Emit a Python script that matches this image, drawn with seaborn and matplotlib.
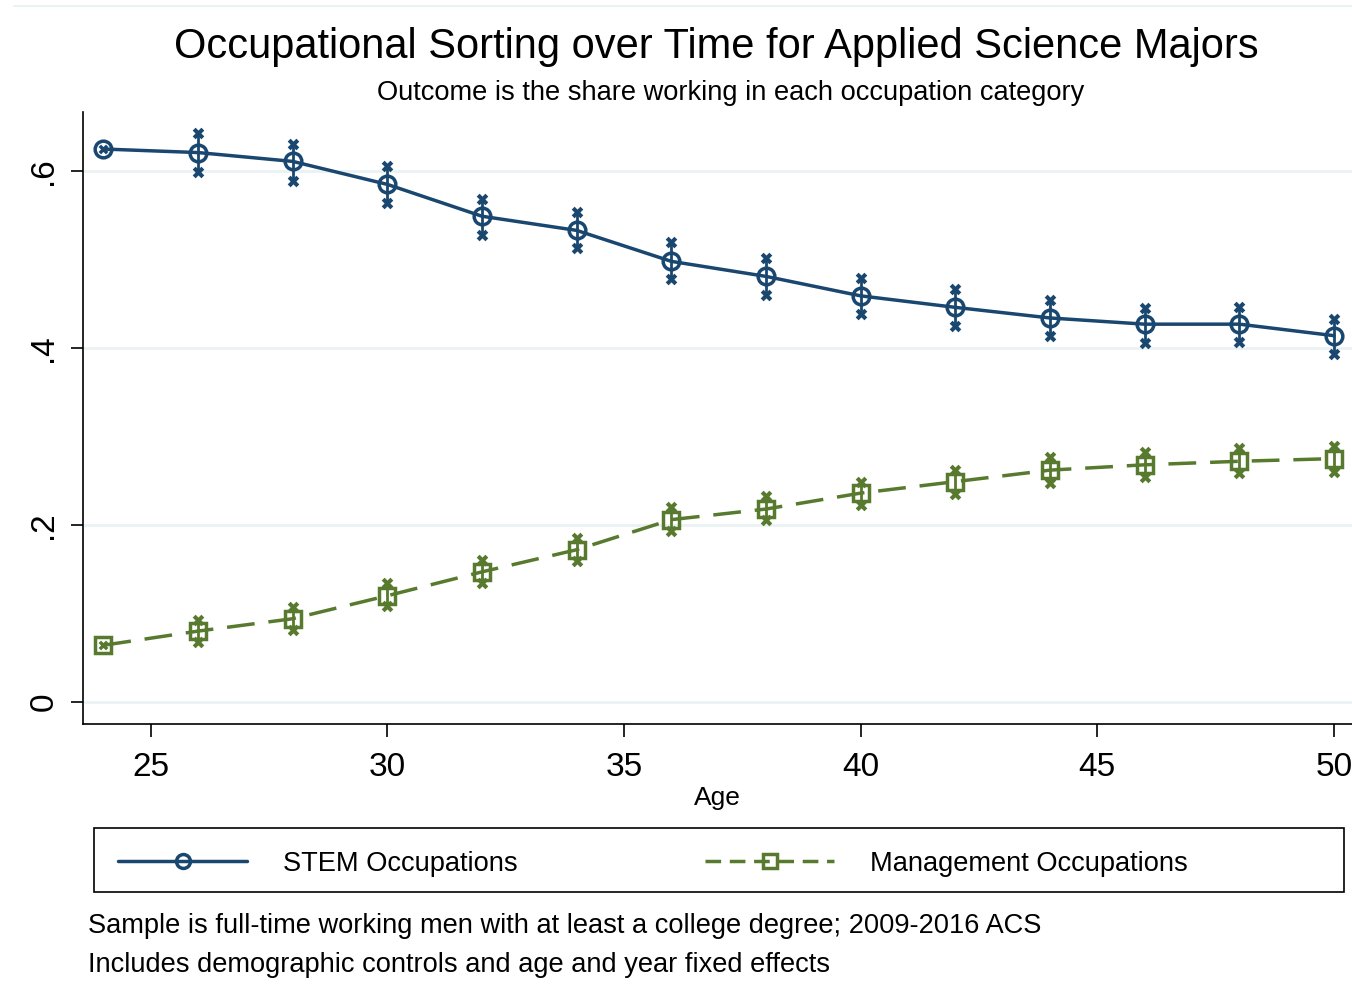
import numpy as np
import pandas as pd
import matplotlib.pyplot as plt
import seaborn as sns
from matplotlib.lines import Line2D
from matplotlib.patches import Rectangle

ages = [24, 26, 28, 30, 32, 34, 36, 38, 40, 42, 44, 46, 48, 50]
stem = [0.625, 0.621, 0.611, 0.585, 0.549, 0.533, 0.498, 0.481, 0.459, 0.446, 0.434, 0.427, 0.427, 0.414]
stem_hi = [0.625, 0.643, 0.631, 0.606, 0.569, 0.554, 0.520, 0.502, 0.479, 0.467, 0.454, 0.445, 0.446, 0.433]
stem_lo = [0.625, 0.599, 0.589, 0.564, 0.528, 0.513, 0.478, 0.460, 0.438, 0.425, 0.414, 0.406, 0.407, 0.393]
mgmt = [0.064, 0.080, 0.094, 0.120, 0.147, 0.172, 0.206, 0.218, 0.236, 0.249, 0.262, 0.268, 0.272, 0.275]
mgmt_hi = [0.064, 0.093, 0.107, 0.134, 0.160, 0.185, 0.220, 0.233, 0.249, 0.262, 0.277, 0.282, 0.287, 0.289]
mgmt_lo = [0.064, 0.068, 0.081, 0.108, 0.134, 0.159, 0.193, 0.206, 0.223, 0.235, 0.247, 0.254, 0.259, 0.260]

navy = '#1a476f'
green = '#577a2e'

sns.set_theme(style='white')
plt.rcParams['font.family'] = ['Liberation Sans', 'DejaVu Sans']
for k in ['text.color', 'axes.labelcolor', 'xtick.color', 'ytick.color']:
    plt.rcParams[k] = 'black'

fig = plt.figure(figsize=(13.52, 9.9), dpi=100)
ax = fig.add_axes([0.0614, 0.2687, 0.9386, 0.6183])

df = pd.DataFrame({'age': ages, 'stem': stem, 'mgmt': mgmt})

# confidence bounds: vertical line + x markers
for lo, hi, c in [(stem_lo, stem_hi, navy), (mgmt_lo, mgmt_hi, green)]:
    ax.vlines(ages, lo, hi, color=c, lw=2, zorder=2)
    sns.scatterplot(x=ages[1:], y=lo[1:], marker='X', color=c, s=70, linewidth=0, ax=ax, zorder=3)
    sns.scatterplot(x=ages[1:], y=hi[1:], marker='X', color=c, s=70, linewidth=0, ax=ax, zorder=3)
    ax.scatter([ages[0]], [lo[0]], marker='X', color=c, s=50, linewidth=0, zorder=4)

sns.lineplot(data=df, x='age', y='stem', color=navy, lw=2.5, marker='o', markersize=12,
             markerfacecolor='none', markeredgecolor=navy, markeredgewidth=2.5, ax=ax, zorder=4)
sns.lineplot(data=df, x='age', y='mgmt', color=green, lw=2.5, marker='s', markersize=11,
             markerfacecolor='none', markeredgecolor=green, markeredgewidth=2.5, ax=ax, zorder=4)
ax.lines[-1].set_dashes([8, 4])

ax.set_xlim(23.57, 50.38)
ax.set_ylim(-0.025, 0.667)
ax.set_xticks([25, 30, 35, 40, 45, 50])
ax.set_yticks([0, 0.2, 0.4, 0.6])
ax.set_yticklabels(['0', '.2', '.4', '.6'], rotation=90, va='center')
ax.tick_params(axis='x', labelsize=24, length=9, width=1.2, direction='out', bottom=True, pad=11)
ax.tick_params(axis='y', labelsize=24, length=9, width=1.2, direction='out', left=True, pad=8)
ax.grid(axis='y', color='#eaf2f3', lw=2)
ax.set_axisbelow(True)
for s in ['top', 'right']:
    ax.spines[s].set_visible(False)
for s in ['left', 'bottom']:
    ax.spines[s].set_color('black')
    ax.spines[s].set_linewidth(1.2)
ax.set_xlabel('Age', fontsize=19, labelpad=2)
ax.set_ylabel('')

fig.text(0.53, 0.953, 'Occupational Sorting over Time for Applied Science Majors',
         ha='center', va='center', fontsize=30)
fig.text(0.5405, 0.906, 'Outcome is the share working in each occupation category',
         ha='center', va='center', fontsize=19.6)

handles = [
    Line2D([0], [0], color=navy, lw=2.5, marker='o', markersize=10, markerfacecolor='none',
           markeredgecolor=navy, markeredgewidth=2.5),
    Line2D([0], [0], color=green, lw=2.5, ls=(0, (4.5, 2.5)), marker='s', markersize=10, markerfacecolor='none',
           markeredgecolor=green, markeredgewidth=2.5),
]
leg = fig.legend(handles, ['STEM Occupations', 'Management Occupations'], loc='center left',
                 bbox_to_anchor=(118 / 1352, 1 - 864 / 990), ncol=2, fontsize=19.6,
                 frameon=False, handlelength=4.75, handletextpad=1.3, columnspacing=6.9,
                 borderpad=0, borderaxespad=0)
fig.add_artist(Rectangle((0.0695, 0.0990), 0.9246, 0.0646, transform=fig.transFigure,
                         fill=False, edgecolor='black', lw=1.2))

fig.text(0.065, 0.0645, 'Sample is full-time working men with at least a college degree; 2009-2016 ACS',
         ha='left', va='center', fontsize=19.6)
fig.text(0.065, 0.0255, 'Includes demographic controls and age and year fixed effects',
         ha='left', va='center', fontsize=19.6)

fig.add_artist(Line2D([0.01, 1.0], [0.994, 0.994], color='#eaf2f3', lw=1.5))

fig.savefig('out.png', dpi=100)
